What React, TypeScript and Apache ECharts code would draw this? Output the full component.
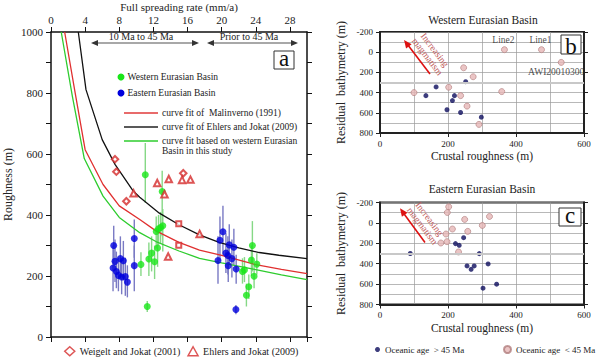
import React, { useEffect, useRef } from 'react';
import * as echarts from 'echarts';

const F = 'Liberation Serif, Times New Roman, serif';

// ---------- Panel a : roughness vs full spreading rate ----------
const westernRate = [11.05, 13.03, 11.28, 10.54, 11.47, 11.79, 12.14, 12.49, 12.33, 12.6, 12.84, 13.1, 23.6, 23.49, 24.12, 22.67, 22.44, 23.8, 23.18, 22.9];
const westernRough = [532, 477, 100, 238, 256, 275, 247, 292, 346, 355, 359, 365, 300, 252, 239, 220, 215, 199, 165, 137];
const westernLow = [440, 330, 82, 200, 200, 215, 190, 230, 290, 300, 305, 280, 215, 200, 205, 180, 175, 160, 125, 100];
const westernHigh = [636, 545, 118, 278, 310, 330, 300, 350, 395, 400, 410, 420, 380, 300, 275, 262, 258, 240, 205, 175];

const easternRate = [7.35, 7.5, 7.27, 7.66, 8.13, 8.48, 7.9, 8.28, 8.71, 8.95, 9.76, 9.76, 20.15, 19.8, 19.57, 20.89, 21.43, 20.5, 20.73, 21.2, 20.77, 21.7, 21.67];
const easternRough = [300, 248, 226, 215, 257, 250, 202, 197, 198, 180, 323, 234, 345, 317, 251, 302, 294, 275, 267, 257, 234, 223, 90];
const easternLow = [235, 180, 150, 160, 190, 185, 150, 140, 135, 130, 260, 150, 270, 250, 175, 240, 235, 210, 205, 195, 180, 175, 75];
const easternHigh = [365, 320, 300, 280, 330, 315, 260, 255, 260, 235, 385, 300, 430, 395, 330, 370, 355, 340, 330, 320, 290, 270, 105];

const weigeltRate = [7.5, 7.66, 8.83, 15.5, 14.97, 14.97];
const weigeltRough = [583, 542, 445, 537, 371, 301];
const weigeltSymbol = ['emptyDiamond', 'emptyDiamond', 'emptyDiamond', 'emptyDiamond', 'emptyRect', 'emptyRect'];

const ehlersRate = [9.68, 12.45, 13.8, 15.36, 16.34, 13.3, 13.73, 17.42];
const ehlersRough = [471, 505, 518, 515, 516, 468, 264, 338];

const malinvernoRate = [1.6, 2.8, 4.0, 6.1, 8.0, 10.4, 12.3, 15.0, 17.4, 20.0, 24.0, 27.0, 30.0];
const malinvernoRough = [1000, 805, 614, 500, 430, 385, 348, 310, 285, 268, 237, 222, 208];

const ehlersFitRate = [3.2, 4.1, 6.0, 7.5, 9.6, 10.4, 12.7, 15.0, 17.4, 19.7, 22.0, 24.4, 26.7, 30.0];
const ehlersFitRough = [1000, 811, 647, 566, 480, 458, 406, 368, 335, 310, 292, 277, 268, 257];

const westFitRate = [1.2, 2.5, 3.9, 6.1, 8.0, 10.4, 12.3, 15.0, 17.4, 20.0, 24.0, 27.0, 30.0];
const westFitRough = [1000, 790, 585, 462, 392, 342, 313, 282, 258, 243, 221, 204, 188];

const rateTicks = [0, 30, 4];
const roughTicks = [0, 1000, 200];

// ---------- Panel b : Western Eurasian Basin ----------
const bOldX = [165, 135, 252, 219, 213, 197, 237, 298];
const bOldY = [344, 430, 292, 430, 479, 570, 597, 643];
const bYoungX = [100, 202, 246, 274, 237, 256, 291, 358, 366, 475, 533];
const bYoungY = [400, 347, 154, 243, 430, 534, 715, 390, -25, -25, 101];
const bYoungNames = ['', '', '', '', '', '', '', '', 'Line2', 'Line1', 'AWI20010300'];

// ---------- Panel c : Eastern Eurasian Basin ----------
const cOldX = [89, 222, 233, 246, 292, 318, 256, 268, 277, 303, 343];
const cOldY = [300, 203, 220, 145, 301, 402, 422, 455, 422, 640, 601];
const cYoungX = [202, 198, 249, 322, 301, 213, 258, 194, 197, 179, 231];
const cYoungY = [-158, -102, -34, -63, 25, 60, 83, 109, 184, 197, 285];

const crustTicks = [0, 600, 200];
const bathyTicks = [-200, 800, 200];

const OLD = 'Oceanic age  > 45 Ma';
const YOUNG = 'Oceanic age  < 45 Ma';

function zip(a: number[], b: number[]) {
  return a.map((v, i) => [v, b[i]]);
}

const plain = (v: number) => String(v);

function txt(text: string, x: number, y: number, size: number, o: any = {}) {
  const align = o.align || 'left';
  return {
    type: 'text', x, y, rotation: o.rotation || 0, z: 100, silent: true,
    style: {
      text, x: 0, y: 0, font: `${size}px ${F}`, fill: o.fill || '#222',
      textAlign: align, align, textVerticalAlign: 'middle', verticalAlign: 'middle',
    },
  };
}

function head(tx: number, ty: number, hx: number, hy: number, len: number, half: number, color: string) {
  const dx = hx - tx, dy = hy - ty;
  const L = Math.hypot(dx, dy);
  const ux = dx / L, uy = dy / L;
  const bx = hx - ux * len, by = hy - uy * len;
  return {
    type: 'polygon', z: 100, silent: true,
    shape: { points: [[hx, hy], [bx - uy * half, by + ux * half], [bx + uy * half, by - ux * half]] },
    style: { fill: color },
  };
}

function seg(x1: number, y1: number, x2: number, y2: number, color: string, w: number) {
  return { type: 'line', z: 100, silent: true, shape: { x1, y1, x2, y2 }, style: { stroke: color, lineWidth: w } };
}

function doubleArrow(x1: number, x2: number, y: number) {
  return [
    seg(x1 + 4, y, x2 - 4, y, '#a8a8a8', 2),
    head(x2, y, x1, y, 7, 3, '#333'),
    head(x1, y, x2, y, 7, 3, '#333'),
  ];
}

function boxLabel(letter: string, x: number, y: number, w: number, h: number, ty: number) {
  return [
    { type: 'rect', z: 100, silent: true, shape: { x, y, width: w, height: h }, style: { fill: '#fff', stroke: '#333', lineWidth: 1 } },
    txt(letter, x + w / 2, ty, 23, { align: 'center', fill: '#111' }),
  ];
}

function magmatism(tx: number, ty: number, hx: number, hy: number, c1: number[], c2: number[]) {
  const rot = -0.92;
  return [
    seg(tx, ty, hx + (tx - hx) * 0.15, hy + (ty - hy) * 0.15, '#dd1111', 1.6),
    head(tx, ty, hx, hy, 8, 3.5, '#dd1111'),
    txt('Increasing', c1[0], c1[1], 9.5, { align: 'center', rotation: rot, fill: '#c05a5a' }),
    txt('magmatism', c2[0], c2[1], 9.5, { align: 'center', rotation: rot, fill: '#c05a5a' }),
  ];
}

function errRender(color: string) {
  return (params: any, api: any) => {
    const p1 = api.coord([api.value(0), api.value(1)]);
    const p2 = api.coord([api.value(0), api.value(2)]);
    return { type: 'line', shape: { x1: p1[0], y1: p1[1], x2: p2[0], y2: p2[1] }, style: { stroke: color, lineWidth: 1.4 } };
  };
}

const axisLineA = { show: true, onZero: false, lineStyle: { color: '#111', width: 1.5 } };
const axisLineB = { show: true, onZero: false, lineStyle: { color: '#222', width: 2 } };
const gridLine = { show: true, lineStyle: { color: '#9a9a9a', width: 0.7 } };

function panelAxes(gridIndex: number, nameSize: number) {
  const x = {
    type: 'value', gridIndex, position: 'bottom', min: crustTicks[0], max: crustTicks[1], interval: crustTicks[2],
    name: 'Crustal roughness (m)', nameLocation: 'middle', nameGap: 17, nameMoveOverlap: false,
    nameTextStyle: { fontFamily: F, fontSize: nameSize, color: '#222' },
    axisLine: axisLineB, axisTick: { show: true, length: 4, lineStyle: { color: '#222' } },
    axisLabel: { fontFamily: F, fontSize: 9, color: '#222', margin: 6, formatter: plain },
    splitLine: gridLine, minorTick: { show: false, splitNumber: 2 }, minorSplitLine: gridLine,
  };
  const yl = {
    type: 'value', gridIndex, position: 'left', inverse: true, min: bathyTicks[0], max: bathyTicks[1], interval: bathyTicks[2],
    name: 'Residual  bathymetry (m)', nameLocation: 'middle', nameGap: 33, nameMoveOverlap: false,
    nameTextStyle: { fontFamily: F, fontSize: 12, color: '#222' },
    axisLine: axisLineB, axisTick: { show: true, length: 4, lineStyle: { color: '#222' } },
    axisLabel: { fontFamily: F, fontSize: 9, color: '#222', margin: 7, formatter: plain },
    splitLine: gridLine, minorTick: { show: false, splitNumber: 2 }, minorSplitLine: gridLine,
  };
  const yr = {
    type: 'value', gridIndex, position: 'right', inverse: true, min: bathyTicks[0], max: bathyTicks[1], interval: bathyTicks[2],
    axisLine: axisLineB, axisTick: { show: true, length: 4, lineStyle: { color: '#222' } },
    axisLabel: { show: false }, splitLine: { show: false },
  };
  return { x, yl, yr };
}

function buildOption() {
  const pb = panelAxes(1, 11.5);
  const pc = panelAxes(2, 11.5);
  const oldStyle = { color: '#0d0d5c' };
  const youngStyle = { color: '#e6b6b6', borderColor: '#b07d7d', borderWidth: 0.8 };

  const graphic: any[] = [
    ...doubleArrow(91, 199, 43),
    ...doubleArrow(207, 298, 43),
    txt('10 Ma to 45 Ma', 141, 36, 10, { align: 'center' }),
    txt('Prior to 45 Ma', 249, 36, 10, { align: 'center' }),
    ...boxLabel('a', 274, 51, 20, 18, 58.5),
    { type: 'circle', z: 100, silent: true, shape: { cx: 121, cy: 77, r: 3.5 }, style: { fill: '#19e619' } },
    txt('Western Eurasian Basin', 127.5, 77, 9.5),
    { type: 'circle', z: 100, silent: true, shape: { cx: 121, cy: 93, r: 3.5 }, style: { fill: '#0000dd' } },
    txt('Eastern Eurasian Basin', 127.5, 93, 9.5),
    seg(124, 113, 158, 113, '#e03a3a', 1.5),
    txt('curve fit of  Malinverno (1991)', 162, 113, 9.5),
    seg(124, 127, 158, 127, '#222', 1.5),
    txt('curve fit of Ehlers and Jokat (2009)', 162, 127, 9.5),
    seg(124, 141, 158, 141, '#2ecc2e', 1.5),
    txt('curve fit based on western Eurasian', 162, 141, 9.5),
    txt('Basin in this study', 162, 151, 9.5),
    txt('Western Eurasian Basin', 483, 20, 11.5, { align: 'center' }),
    txt('Eastern Eurasian Basin', 482, 189, 11.5, { align: 'center' }),
    ...boxLabel('b', 561, 35, 20, 19, 46.5),
    ...boxLabel('c', 559, 208, 22, 18, 215),
    ...magmatism(430, 74, 404, 40, [434.7, 50], [427.3, 56.7]),
    ...magmatism(425, 242.5, 400, 208.3, [429.3, 219], [422.3, 226]),
  ];

  return {
    animation: false,
    backgroundColor: '#fff',
    textStyle: { fontFamily: F },
    graphic: { elements: graphic },
    grid: [
      { left: 51, top: 32, width: 256, height: 305, outerBoundsMode: 'none', containLabel: false },
      { left: 380, top: 32, width: 204, height: 101, show: true, borderColor: '#222', borderWidth: 2, backgroundColor: 'transparent', outerBoundsMode: 'none', containLabel: false },
      { left: 380, top: 202.5, width: 204, height: 102, show: true, borderColor: '#222', borderWidth: 2, backgroundColor: 'transparent', outerBoundsMode: 'none', containLabel: false },
    ],
    legend: [
      {
        data: [
          { name: 'Weigelt and Jokat (2001)', icon: 'diamond', itemStyle: { color: '#fff', borderColor: '#d42a2a', borderWidth: 1.5 } },
          { name: 'Ehlers and Jokat (2009)', icon: 'triangle', itemStyle: { color: '#fff', borderColor: '#d42a2a', borderWidth: 1.5 } },
        ],
        left: 64, top: 346, itemWidth: 10, itemHeight: 9, itemGap: 7, selectedMode: false, padding: 0,
        textStyle: { fontFamily: F, fontSize: 10, color: '#222' },
      },
      {
        data: [OLD], left: 375, top: 345, icon: 'circle', itemWidth: 5, itemHeight: 5, selectedMode: false, padding: 0,
        textStyle: { fontFamily: F, fontSize: 9, color: '#222' },
      },
      {
        data: [YOUNG], left: 503, top: 345, icon: 'circle', itemWidth: 7, itemHeight: 7, selectedMode: false, padding: 0,
        textStyle: { fontFamily: F, fontSize: 9, color: '#222' },
      },
    ],
    xAxis: [
      {
        type: 'value', gridIndex: 0, position: 'top', min: rateTicks[0], max: rateTicks[1], interval: rateTicks[2],
        name: 'Full spreading rate (mm/a)', nameLocation: 'middle', nameGap: 20, nameMoveOverlap: false,
        nameTextStyle: { fontFamily: F, fontSize: 11, lineHeight: 11, color: '#222' },
        axisLine: axisLineA, axisTick: { show: true, length: 5, lineStyle: { color: '#111' } },
        axisLabel: { fontFamily: F, fontSize: 11, color: '#222', margin: 7, showMaxLabel: false, formatter: plain },
        splitLine: { show: false },
      },
      {
        type: 'value', gridIndex: 0, position: 'bottom', min: rateTicks[0], max: rateTicks[1], interval: rateTicks[2],
        axisLine: axisLineA, axisTick: { show: true, length: 5, lineStyle: { color: '#111' } },
        axisLabel: { show: false }, splitLine: { show: false },
      },
      pb.x,
      pc.x,
    ],
    yAxis: [
      {
        type: 'value', gridIndex: 0, position: 'left', min: roughTicks[0], max: roughTicks[1], interval: roughTicks[2],
        name: 'Roughness (m)', nameLocation: 'middle', nameGap: 37, nameMoveOverlap: false,
        nameTextStyle: { fontFamily: F, fontSize: 12, color: '#222' },
        axisLine: axisLineA, axisTick: { show: true, length: 5, lineStyle: { color: '#111' } },
        minorTick: { show: true, splitNumber: 2, length: 5, lineStyle: { color: '#111' } },
        axisLabel: { fontFamily: F, fontSize: 11, color: '#222', margin: 8, formatter: plain },
        splitLine: { show: false },
      },
      {
        type: 'value', gridIndex: 0, position: 'right', min: roughTicks[0], max: roughTicks[1], interval: roughTicks[2],
        axisLine: axisLineA, axisTick: { show: true, length: 5, lineStyle: { color: '#111' } },
        minorTick: { show: true, splitNumber: 2, length: 5, lineStyle: { color: '#111' } },
        axisLabel: { show: false }, splitLine: { show: false },
      },
      pb.yl, pb.yr, pc.yl, pc.yr,
    ],
    series: [
      {
        type: 'custom', name: 'western error', xAxisIndex: 0, yAxisIndex: 0, z: 1, silent: true,
        renderItem: errRender('#86d886'), encode: { x: 0, y: [1, 2] },
        data: westernRate.map((r, i) => [r, westernLow[i], westernHigh[i]]),
      },
      {
        type: 'custom', name: 'eastern error', xAxisIndex: 0, yAxisIndex: 0, z: 1, silent: true,
        renderItem: errRender('#7a7ac4'), encode: { x: 0, y: [1, 2] },
        data: easternRate.map((r, i) => [r, easternLow[i], easternHigh[i]]),
      },
      {
        type: 'line', name: 'curve fit of  Malinverno (1991)', xAxisIndex: 0, yAxisIndex: 0, z: 2,
        symbol: 'none', lineStyle: { color: '#e03030', width: 1.3 }, data: zip(malinvernoRate, malinvernoRough),
      },
      {
        type: 'line', name: 'curve fit of Ehlers and Jokat (2009)', xAxisIndex: 0, yAxisIndex: 0, z: 2,
        symbol: 'none', lineStyle: { color: '#111', width: 1.3 }, data: zip(ehlersFitRate, ehlersFitRough),
      },
      {
        type: 'line', name: 'curve fit based on western Eurasian Basin in this study', xAxisIndex: 0, yAxisIndex: 0, z: 2,
        symbol: 'none', lineStyle: { color: '#2ecc2e', width: 1.3 }, data: zip(westFitRate, westFitRough),
      },
      {
        type: 'scatter', name: 'Western Eurasian Basin', xAxisIndex: 0, yAxisIndex: 0, z: 3,
        symbolSize: 7, itemStyle: { color: '#19e619' }, data: zip(westernRate, westernRough),
      },
      {
        type: 'scatter', name: 'Eastern Eurasian Basin', xAxisIndex: 0, yAxisIndex: 0, z: 3,
        symbolSize: 7, itemStyle: { color: '#0000dd' }, data: zip(easternRate, easternRough),
      },
      {
        type: 'scatter', name: 'Weigelt and Jokat (2001)', xAxisIndex: 0, yAxisIndex: 0, z: 4,
        symbolSize: 6.5, itemStyle: { color: '#d42a2a', borderWidth: 1.2 },
        data: weigeltRate.map((r, i) => ({ value: [r, weigeltRough[i]], symbol: weigeltSymbol[i], symbolSize: weigeltSymbol[i] === 'emptyRect' ? 5 : 6.5 })),
      },
      {
        type: 'scatter', name: 'Ehlers and Jokat (2009)', xAxisIndex: 0, yAxisIndex: 0, z: 4,
        symbol: 'emptyTriangle', symbolSize: 6.5, itemStyle: { color: '#d42a2a', borderWidth: 1.2 },
        data: zip(ehlersRate, ehlersRough),
      },
      // panel b
      {
        type: 'line', name: 'b ref', xAxisIndex: 2, yAxisIndex: 2, z: 1, data: [], silent: true,
        markLine: { silent: true, symbol: 'none', label: { show: false }, lineStyle: { color: '#c8c8c8', width: 2, type: 'solid' }, data: [{ yAxis: 300 }] },
      },
      {
        type: 'scatter', name: OLD, xAxisIndex: 2, yAxisIndex: 2, z: 3, symbolSize: 5, itemStyle: oldStyle,
        data: zip(bOldX, bOldY),
      },
      {
        type: 'scatter', name: YOUNG, xAxisIndex: 2, yAxisIndex: 2, z: 3, symbolSize: 6, itemStyle: youngStyle,
        data: bYoungX.map((x, i) => {
          const n = bYoungNames[i];
          if (!n) return [x, bYoungY[i]];
          return {
            value: [x, bYoungY[i]],
            label: {
              show: true, formatter: n, position: n === 'AWI20010300' ? 'bottom' : 'top', distance: 1,
              offset: n === 'AWI20010300' ? [-5, 0] : [-1, 0],
              fontFamily: F, fontSize: 9.5, color: '#222',
            },
          };
        }),
      },
      // panel c
      {
        type: 'line', name: 'c ref', xAxisIndex: 3, yAxisIndex: 4, z: 1, data: [], silent: true,
        markLine: { silent: true, symbol: 'none', label: { show: false }, lineStyle: { color: '#c8c8c8', width: 2, type: 'solid' }, data: [{ yAxis: 300 }] },
      },
      {
        type: 'scatter', name: OLD, xAxisIndex: 3, yAxisIndex: 4, z: 3, symbolSize: 5, itemStyle: oldStyle,
        data: zip(cOldX, cOldY),
      },
      {
        type: 'scatter', name: YOUNG, xAxisIndex: 3, yAxisIndex: 4, z: 3, symbolSize: 6, itemStyle: youngStyle,
        data: zip(cYoungX, cYoungY),
      },
    ],
  };
}

export default function App() {
  const ref = useRef<HTMLDivElement>(null);
  useEffect(() => {
    document.body.style.margin = '0';
    const chart = echarts.init(ref.current as HTMLDivElement, null, { renderer: 'svg' });
    chart.setOption(buildOption() as any);
    return () => chart.dispose();
  }, []);
  return <div ref={ref} style={{ position: 'absolute', left: 0, top: 0, width: 600, height: 357 }} />;
}
